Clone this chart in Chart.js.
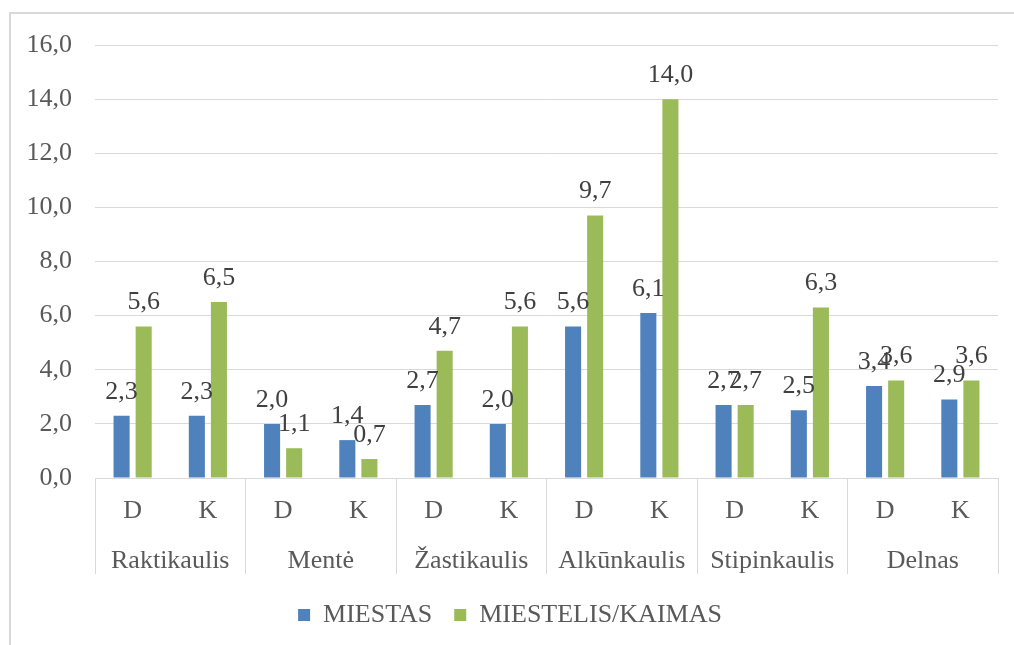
<!DOCTYPE html>
<html>
<head>
<meta charset="utf-8">
<script src="https://cdn.jsdelivr.net/npm/chart.js@4"></script>
<style>
  html, body { margin: 0; padding: 0; background: #fff; }
  #wrap { position: relative; width: 1014px; height: 645px; }
  #frame { position: absolute; left: 9px; top: 12px; right: 0; bottom: 0;
           border-top: 2px solid #d9d9d9; border-left: 2px solid #d9d9d9; }
  canvas { position: absolute; left: 0; top: 0; }
</style>
</head>
<body>
<div id="wrap">
  <div id="frame"></div>
  <canvas id="chart" width="1014" height="645"></canvas>
</div>
<script>
// bone groups and side (D / K) sub-categories
const groups = ['Raktikaulis', 'Mentė', 'Žastikaulis', 'Alkūnkaulis', 'Stipinkaulis', 'Delnas'];
const sides = ['D', 'K'];
const miestas = [2.3, 2.3, 2.0, 1.4, 2.7, 2.0, 5.6, 6.1, 2.7, 2.5, 3.4, 2.9];
const kaimas = [5.6, 6.5, 1.1, 0.7, 4.7, 5.6, 9.7, 14.0, 2.7, 6.3, 3.6, 3.6];
const yTicks = [0, 2, 4, 6, 8, 10, 12, 14, 16];

const FONT = "'Liberation Serif', 'Times New Roman', 'DejaVu Serif', serif";
const SIZE = 26;
const GRID = '#d9d9d9';
const fmt = v => v.toFixed(1).replace('.', ',');

const subLabels = groups.flatMap(() => sides);

const valueLabels = {
    id: 'valueLabels',
    afterDatasetsDraw(chart) {
        const ctx = chart.ctx;
        ctx.save();
        ctx.font = SIZE + 'px ' + FONT;
        ctx.fillStyle = '#404040';
        ctx.textAlign = 'center';
        ctx.textBaseline = 'bottom';
        chart.data.datasets.forEach((ds, di) => {
            chart.getDatasetMeta(di).data.forEach((bar, i) => {
                ctx.fillText(fmt(ds.data[i]), bar.x, bar.y - 11);
            });
        });
        ctx.restore();
    }
};

new Chart(document.getElementById('chart'), {
    type: 'bar',
    data: {
        labels: subLabels,
        datasets: [
            { label: 'MIESTAS', data: miestas, backgroundColor: '#4f81bd', xAxisID: 'x', yAxisID: 'y' },
            { label: 'MIESTELIS/KAIMAS', data: kaimas, backgroundColor: '#9bbb59', xAxisID: 'x', yAxisID: 'y' }
        ]
    },
    options: {
        responsive: false,
        animation: false,
        categoryPercentage: 0.587,
        barPercentage: 0.727,
        layout: { padding: { left: 22, right: 16, top: 45, bottom: 7 } },
        scales: {
            y: {
                min: 0,
                max: 16,
                afterBuildTicks: axis => { axis.ticks = yTicks.map(v => ({ value: v })); },
                afterFit: axis => { axis.width = 73; },
                grid: { color: GRID, drawTicks: false },
                border: { display: false },
                ticks: { padding: 23, color: '#595959', font: { family: FONT, size: SIZE }, callback: v => fmt(v) }
            },
            x: {
                weight: 0,
                // long tick marks at group boundaries form the separators under the plot
                grid: {
                    drawOnChartArea: false,
                    offset: true,
                    tickLength: 96,
                    color: c => (c.index === undefined || c.index % 2 === 0) ? GRID : 'rgba(0,0,0,0)'
                },
                border: { display: true, color: GRID },
                ticks: {
                    padding: -78,
                    autoSkip: false,
                    maxRotation: 0,
                    color: '#595959',
                    font: { family: FONT, size: SIZE },
                    callback: (v, i) => [subLabels[i], '', '', '']
                }
            },
            x2: {
                type: 'category',
                position: 'bottom',
                weight: 1,
                labels: groups,
                offset: true,
                grid: { display: false, drawTicks: false },
                border: { display: false },
                ticks: { padding: 3, autoSkip: false, maxRotation: 0, color: '#595959', font: { family: FONT, size: SIZE } }
            }
        },
        plugins: {
            legend: {
                position: 'bottom',
                labels: {
                    boxWidth: 12,
                    boxHeight: 12,
                    padding: 22,
                    color: '#595959',
                    font: { family: FONT, size: SIZE }
                }
            },
            tooltip: { enabled: false }
        }
    },
    plugins: [valueLabels]
});
</script>
</body>
</html>
